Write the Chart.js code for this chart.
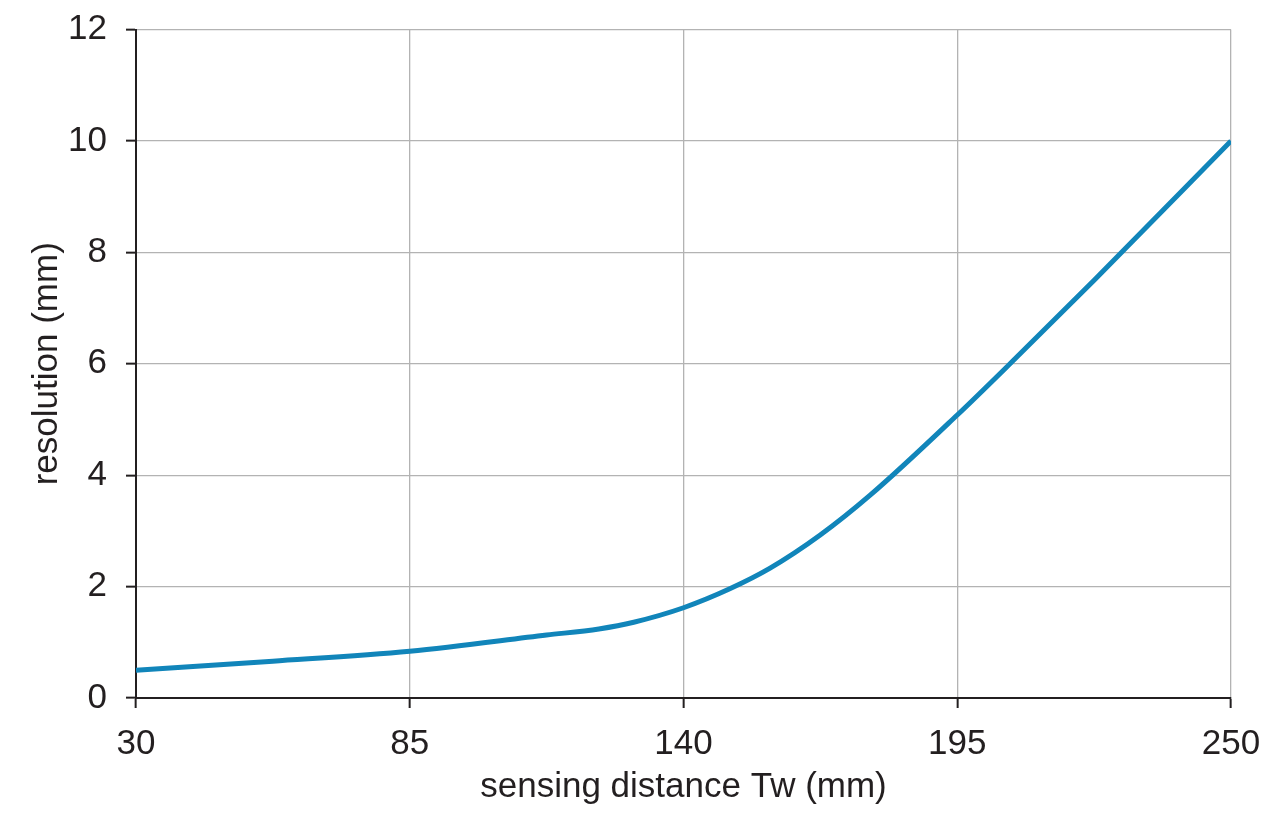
<!DOCTYPE html>
<html>
<head>
<meta charset="utf-8">
<script src="https://cdn.jsdelivr.net/npm/chart.js@4/dist/chart.umd.min.js"></script>
<style>
  html, body { margin: 0; padding: 0; background: #fff; }
  #wrap { width: 1280px; height: 826px; }
</style>
</head>
<body>
<div id="wrap"><canvas id="myChart" width="1280" height="826"></canvas></div>
<script>
// values
const distance = [30, 57.5, 85, 112.5, 123, 130, 140, 149.3, 157.4, 167.4, 177.5, 195, 205.6, 222.5, 250]
const resolution = [0.5, 0.66, 0.84, 1.13, 1.24, 1.36, 1.62, 1.96, 2.33, 2.92, 3.64, 5.08, 6.0, 7.5, 10.0]

const xTicks = [30, 85, 140, 195, 250]
const yTicks = [0, 2, 4, 6, 8, 10, 12]

const textColor = '#231f20'
const gridColor = '#b3b3b3'
const font = { family: "'Liberation Sans', Arial, sans-serif", size: 35 }

const data = {
  datasets: [
    {
      label: 'resolution',
      data: distance.map((d, i) => ({ x: d, y: resolution[i] })),
      borderColor: '#1185ba',
      borderWidth: 5,
      pointRadius: 0,
      cubicInterpolationMode: 'monotone',
      fill: false
    }
  ]
}

const config = {
  type: 'line',
  data: data,
  options: {
    responsive: false,
    animation: false,
    layout: { padding: { top: 20, right: 49, left: 0, bottom: 0 } },
    plugins: {
      legend: { display: false },
      tooltip: { enabled: false }
    },
    scales: {
      x: {
        type: 'linear',
        min: xTicks[0],
        max: xTicks[xTicks.length - 1],
        afterBuildTicks: scale => {
          scale.ticks = xTicks.map(v => ({ value: v }))
        },
        afterFit: scale => {
          scale.height = 128
        },
        grid: {
          color: gridColor,
          lineWidth: 1.3,
          tickColor: textColor,
          tickLength: 10,
          tickWidth: 2
        },
        border: { color: textColor, width: 2 },
        ticks: { color: textColor, font: font, padding: 15, maxRotation: 0 },
        title: {
          display: true,
          text: 'sensing distance Tw (mm)',
          color: textColor,
          font: font,
          padding: { top: 0, bottom: 18 }
        }
      },
      y: {
        min: yTicks[0],
        max: yTicks[yTicks.length - 1],
        afterBuildTicks: scale => {
          scale.ticks = yTicks.map(v => ({ value: v }))
        },
        afterFit: scale => {
          scale.width = 136
        },
        grid: {
          color: gridColor,
          lineWidth: 1.3,
          tickColor: textColor,
          tickLength: 10,
          tickWidth: 2
        },
        border: { color: textColor, width: 2 },
        ticks: { color: textColor, font: { ...font, lineHeight: 0.6 }, padding: 19 },
        title: {
          display: true,
          text: 'resolution (mm)',
          color: textColor,
          font: font,
          padding: { top: 26, bottom: 0 }
        }
      }
    }
  }
}

const myChart = new Chart(document.getElementById('myChart'), config)
</script>
</body>
</html>
